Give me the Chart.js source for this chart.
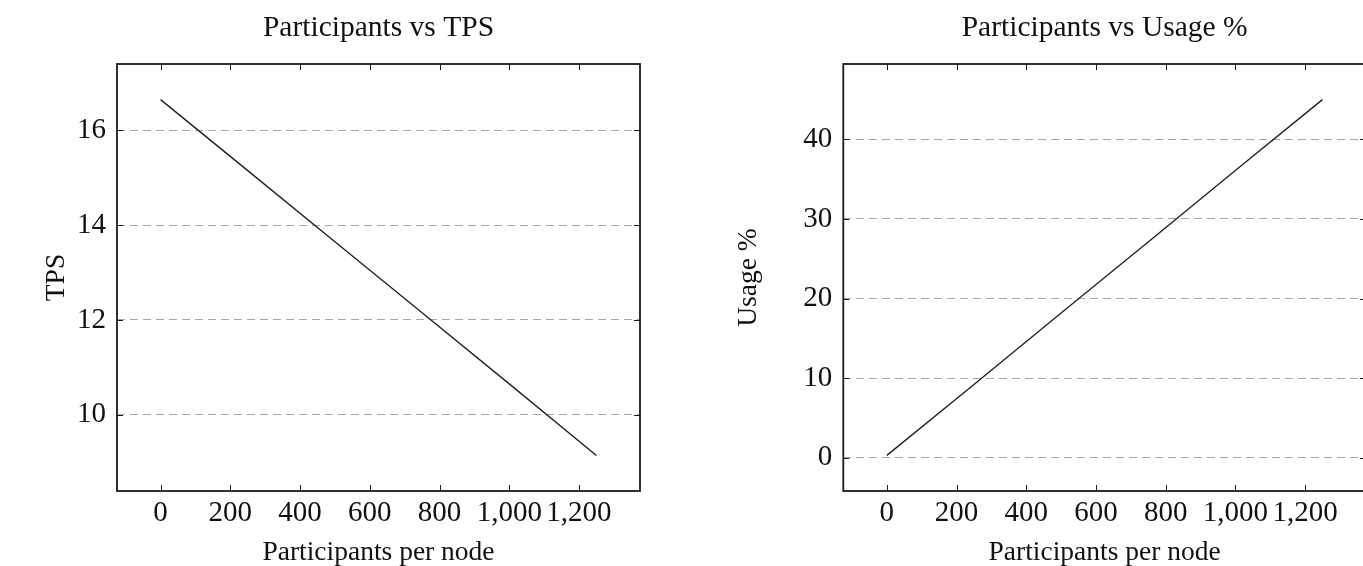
<!DOCTYPE html>
<html><head><meta charset="utf-8">
<script src="https://cdn.jsdelivr.net/npm/chart.js@4.4.0/dist/chart.umd.min.js"></script>
<style>
html,body{margin:0;padding:0;background:#fff;overflow:hidden;width:1363px;height:566px;position:relative;}
canvas{position:absolute;top:0;}
#c1{left:0;} #c2{left:700px;}
</style></head><body>
<canvas id="c1" width="680" height="566"></canvas>
<canvas id="c2" width="700" height="566"></canvas>
<script>
// ---- data ----
const participants = [0, 250, 500, 750, 1000, 1250];
const tps = [16.65, 15.15, 13.65, 12.15, 10.65, 9.14];
const usage = [0.3, 9.2, 18.2, 27.1, 36.1, 45.0];
const xTickValues = [0, 200, 400, 600, 800, 1000, 1200];
const tpsTickValues = [10, 12, 14, 16];
const usageTickValues = [0, 10, 20, 30, 40];
const titles = ['Participants vs TPS', 'Participants vs Usage %'];
const xLabel = 'Participants per node';
const yLabels = ['TPS', 'Usage %'];

// ---- helpers ----
const FONT = "'Liberation Serif', 'Times New Roman', serif";
const TICK_FS = 29, TITLE_FS = 29.5, LABEL_FS = 27.5;
const fmt = new Intl.NumberFormat('en-US');
function enlarge(arr){ const mn=Math.min(...arr), mx=Math.max(...arr), p=(mx-mn)*0.1; return [mn-p, mx+p]; }

const framePlugin = {
  id: 'frame',
  afterDatasetsDraw(chart){
    const {ctx, chartArea:a, scales:{x, y}} = chart;
    ctx.save();
    ctx.strokeStyle = '#1a1a1a';
    ctx.lineWidth = 1;
    const seg = (x1,y1,x2,y2)=>{ctx.beginPath();ctx.moveTo(x1,y1);ctx.lineTo(x2,y2);ctx.stroke();};
    x.ticks.forEach(t=>{const px=Math.round(x.getPixelForValue(t.value))+0.5; seg(px,a.top,px,a.top+6); seg(px,a.bottom,px,a.bottom-6);});
    y.ticks.forEach(t=>{const py=Math.round(y.getPixelForValue(t.value))+0.5; seg(a.left,py,a.left+6,py); seg(a.right,py,a.right-6,py);});
    ctx.lineWidth = 1.8;
    ctx.strokeRect(a.left, a.top, a.right-a.left, a.bottom-a.top);
    ctx.restore();
  }
};

function makeChart(id, yData, yTicks, title, yTitle, opts){
  const xr = enlarge(participants), yr = enlarge(yData);
  return new Chart(document.getElementById(id), {
    type: 'line',
    data: { labels: participants, datasets: [{
      data: participants.map((p,i)=>({x:p, y:yData[i]})),
      borderColor: '#222', borderWidth: 1.4, pointRadius: 0, tension: 0, fill: false
    }]},
    options: {
      responsive: false, animation: false, devicePixelRatio: 1,
      layout: { padding: { left: 0, right: opts.padRight, top: 0, bottom: 0 } },
      plugins: {
        legend: { display: false }, tooltip: { enabled: false },
        title: { display: true, text: title, fullSize: false, color: '#111',
          font: { family: FONT, size: TITLE_FS, weight: 'normal' }, padding: { top: 10.3, bottom: 18.3 } }
      },
      scales: {
        x: {
          type: 'linear', position: 'bottom', min: xr[0], max: xr[1],
          afterBuildTicks: s => { s.ticks = xTickValues.map(v=>({value:v})); },
          afterFit: s => { s.height = 75; },
          grid: { display: false, drawTicks: false },
          border: { display: false },
          ticks: { autoSkip: false, maxRotation: 0, minRotation: 0, padding: 4.5, color: '#111',
            font: { family: FONT, size: TICK_FS }, callback: v => fmt.format(v) },
          title: { display: true, text: xLabel, color: '#111', font: { family: FONT, size: LABEL_FS }, padding: { top: 0, bottom: -3.5 } }
        },
        y: {
          type: 'linear', position: 'left', min: yr[0], max: yr[1],
          afterBuildTicks: s => { s.ticks = yTicks.map(v=>({value:v})); },
          afterFit: s => { s.width = opts.yWidth; },
          grid: { display: true, drawTicks: false, color: '#a8a8a8', lineWidth: 1 },
          border: { display: false, dash: [8, 5] },
          ticks: { padding: 11, color: '#111', font: { family: FONT, size: TICK_FS }, callback: v => fmt.format(v) },
          title: { display: true, text: yTitle, color: '#111', font: { family: FONT, size: LABEL_FS }, padding: { top: opts.yTitlePad, bottom: 0 } }
        }
      }
    },
    plugins: [framePlugin]
  });
}

makeChart('c1', tps, tpsTickValues, titles[0], yLabels[0], { padRight: 40, yWidth: 117, yTitlePad: 40.5 });
makeChart('c2', usage, usageTickValues, titles[1], yLabels[1], { padRight: 34, yWidth: 143.3, yTitlePad: 32.5 });
</script>
</body></html>
